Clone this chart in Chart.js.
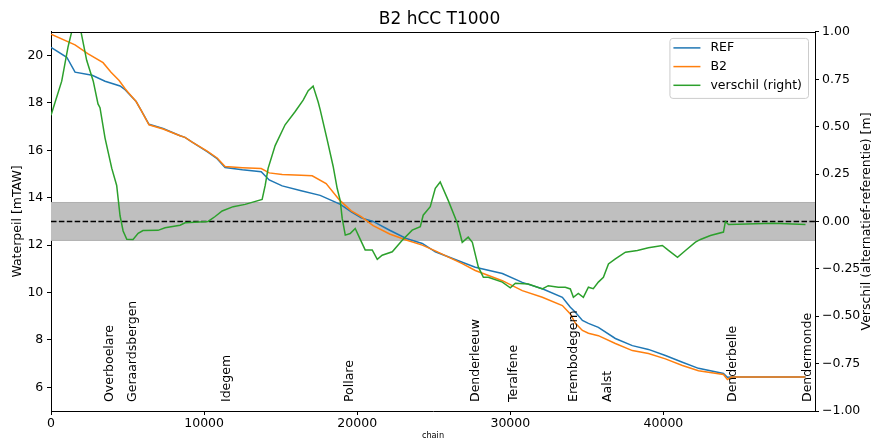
<!DOCTYPE html>
<html><head><meta charset="utf-8">
<script src="https://cdn.jsdelivr.net/npm/chart.js@4/dist/chart.umd.min.js"></script>
<style>html,body{margin:0;padding:0;background:#fff}canvas{display:block}</style>
</head><body>
<canvas id="c" width="879" height="441"></canvas>
<script>
// ---- data ----
const refChain = [0,1030,1570,2690,3530,4510,4840,5100,5560,5880,6400,7320,8430,8750,9220,10200,10850,11370,12500,13730,14250,15100,16340,17580,18900,19610,20260,21040,22120,23200,24250,25100,26860,27710,29480,30780,32090,33400,33920,34250,34710,35100,35750,36860,37970,39020,40130,41240,42290,43920,44180,44440,49280];
const refLevel = [20.35,19.93,19.3,19.17,18.92,18.72,18.56,18.38,18.06,17.7,17.1,16.92,16.62,16.55,16.35,15.95,15.65,15.28,15.18,15.1,14.75,14.5,14.3,14.1,13.72,13.4,13.15,13.0,12.63,12.28,12.07,11.72,11.28,11.07,10.8,10.43,10.16,9.8,9.38,9.17,8.82,8.7,8.53,8.06,7.76,7.6,7.34,7.06,6.8,6.58,6.42,6.43,6.43];

const b2Chain = [0,1570,2400,3400,3920,4450,4840,5100,5560,5880,6400,7320,8430,8750,9220,10200,10850,11370,12500,13730,14250,15100,16340,17060,17970,18850,19610,20260,21040,22120,23200,24250,25100,26860,27710,29480,30780,32090,33400,33920,34250,34710,35100,35750,36860,37970,39020,40130,41240,42290,43920,44180,44440,49280];
const b2Level = [20.9,20.45,20.08,19.7,19.3,18.95,18.6,18.4,18.06,17.7,17.08,16.9,16.62,16.55,16.35,15.97,15.68,15.32,15.27,15.23,15.05,14.98,14.95,14.93,14.6,13.9,13.45,13.2,12.82,12.47,12.22,12.0,11.76,11.22,10.93,10.5,10.08,9.8,9.45,9.1,8.7,8.4,8.28,8.18,7.85,7.55,7.43,7.2,6.92,6.7,6.54,6.33,6.43,6.43];

const diffChain = [0,700,1110,1350,1630,1960,2330,2760,3070,3200,3530,3970,4290,4510,4710,4950,5360,5690,6010,6990,7450,8430,8760,10260,10720,11180,11900,12680,13790,13990,14180,14640,15290,15950,16470,16800,17120,17450,17580,18040,18430,18690,18890,19020,19220,19540,19870,20070,20520,20980,21310,21630,22290,22940,23590,24120,24310,24770,25100,25420,25950,26540,26860,27250,27520,27910,28240,28560,29480,30000,30330,31180,32090,32480,33140,33590,33920,34120,34440,34770,35100,35420,35750,36080,36410,36860,37520,38300,39020,39930,40330,40920,41440,42090,42420,43070,43920,44050,44250,47190,49280];
const diffValue = [0.56,0.74,0.92,1.0,1.15,1.0,0.85,0.74,0.62,0.6,0.44,0.28,0.19,0.03,-0.05,-0.094,-0.095,-0.063,-0.048,-0.047,-0.033,-0.02,-0.007,0.0,0.026,0.055,0.078,0.09,0.116,0.19,0.28,0.40,0.51,0.58,0.64,0.69,0.714,0.63,0.59,0.43,0.29,0.175,0.11,0.016,-0.072,-0.064,-0.037,-0.072,-0.15,-0.15,-0.2,-0.178,-0.16,-0.099,-0.046,-0.028,0.033,0.078,0.175,0.208,0.11,-0.01,-0.11,-0.083,-0.11,-0.24,-0.295,-0.295,-0.32,-0.35,-0.326,-0.33,-0.356,-0.339,-0.347,-0.347,-0.356,-0.40,-0.38,-0.40,-0.347,-0.355,-0.32,-0.295,-0.224,-0.198,-0.162,-0.153,-0.139,-0.127,-0.153,-0.189,-0.153,-0.109,-0.095,-0.074,-0.056,0.0,-0.016,-0.009,-0.016];

const bandChain = [0, 49900];
const bandUpper = [0.1, 0.1];
const bandLower = [-0.1, -0.1];
const zeroLine = [0, 0];

const locationNames = ['Overboelare','Geraardsbergen','Idegem','Pollare','Denderleeuw','Teralfene','Erembodegem','Aalst','Denderbelle','Dendermonde'];
const locationChain = [3860,5360,11500,19540,27710,30200,34120,36340,44510,49410];

const xTicks = [0,10000,20000,30000,40000];
const yLeftTicks = [6,8,10,12,14,16,18,20];
const yRightTicks = [-1,-0.75,-0.5,-0.25,0,0.25,0.5,0.75,1];
const rightAxisTitle = 'Verschil (alternatief-referentie) [m]';

// ---- chart ----
const FONT = 'DejaVu Sans';
Chart.defaults.font.family = FONT;
Chart.defaults.color = '#000';
const toXY = (xs, ys) => xs.map((x, i) => ({x: x, y: ys[i]}));

const extras = {
  id: 'extras',
  afterDraw(chart) {
    const {ctx, chartArea: a, scales: {x}} = chart;
    ctx.save();
    ctx.strokeStyle = '#000'; ctx.lineWidth = 1;
    ctx.beginPath(); ctx.moveTo(a.left, Math.round(a.top) + 0.5); ctx.lineTo(a.right, Math.round(a.top) + 0.5); ctx.stroke();
    ctx.fillStyle = '#000';
    ctx.font = '12.5px "' + FONT + '"';
    // right axis title (reads bottom to top)
    ctx.save(); ctx.translate(chart.width - 12, (a.top + a.bottom) / 2); ctx.rotate(-Math.PI / 2);
    ctx.textAlign = 'center'; ctx.textBaseline = 'middle'; ctx.fillText(rightAxisTitle, 0, 0); ctx.restore();
    // location labels
    ctx.textAlign = 'left'; ctx.textBaseline = 'middle';
    locationNames.forEach((name, i) => {
      const px = x.getPixelForValue(locationChain[i]);
      ctx.save(); ctx.translate(px, a.bottom - 9); ctx.rotate(-Math.PI / 2); ctx.fillText(name, 0, 0); ctx.restore();
    });
    // legend
    const items = chart.data.datasets.filter(d => d.inLegend);
    const tw = Math.max(...items.map(d => ctx.measureText(d.label).width));
    const w = 4 + 27 + 10 + tw + 6, h = 60;
    const bx = a.right - 7 - w, by = a.top + 6;
    ctx.fillStyle = 'rgba(255,255,255,0.8)';
    ctx.strokeStyle = '#cccccc'; ctx.lineWidth = 1;
    ctx.beginPath(); ctx.roundRect(bx + 0.5, by + 0.5, w, h, 3); ctx.fill(); ctx.stroke();
    items.forEach((d, i) => {
      const yy = by + 10 + i * 18.7;
      ctx.strokeStyle = d.borderColor; ctx.lineWidth = 1.5;
      ctx.beginPath(); ctx.moveTo(bx + 4, yy); ctx.lineTo(bx + 31, yy); ctx.stroke();
      ctx.fillStyle = '#000'; ctx.textAlign = 'left'; ctx.textBaseline = 'middle';
      ctx.fillText(d.label, bx + 41, yy);
    });
    ctx.restore();
  }
};

const tickGrid = {display: true, drawOnChartArea: false, drawTicks: true, tickLength: 4, color: '#000', lineWidth: 1};
const border = {display: true, color: '#000', width: 1};

new Chart(document.getElementById('c'), {
  type: 'line',
  data: {
    datasets: [
      {label: 'REF', inLegend: true, data: toXY(refChain, refLevel), yAxisID: 'y', borderColor: '#1f77b4', borderWidth: 1.5, pointRadius: 0, fill: false, order: 3},
      {label: 'B2', inLegend: true, data: toXY(b2Chain, b2Level), yAxisID: 'y', borderColor: '#ff7f0e', borderWidth: 1.5, pointRadius: 0, fill: false, order: 2},
      {label: 'verschil (right)', inLegend: true, data: toXY(diffChain, diffValue), yAxisID: 'y1', borderColor: '#2ca02c', borderWidth: 1.5, pointRadius: 0, fill: false, order: 1, clip: 0},
      {label: 'band', data: toXY(bandChain, bandUpper), yAxisID: 'y1', borderColor: '#b0b0b0', borderWidth: 1, backgroundColor: '#bfbfbf', pointRadius: 0, fill: {value: -0.1}, order: 10},
      {label: 'bandLow', data: toXY(bandChain, bandLower), yAxisID: 'y1', borderColor: '#b0b0b0', borderWidth: 1, pointRadius: 0, fill: false, order: 9},
      {label: 'zero', data: toXY(bandChain, zeroLine), yAxisID: 'y1', borderColor: '#000', borderWidth: 1.5, borderDash: [5.5, 2.4], pointRadius: 0, fill: false, order: 5}
    ]
  },
  options: {
    responsive: false, animation: false, devicePixelRatio: 1,
    layout: {padding: 0},
    plugins: {
      legend: {display: false}, tooltip: {enabled: false},
      title: {display: true, text: 'B2 hCC T1000', color: '#000', font: {size: 17, weight: 'normal'}, padding: {top: 9.5, bottom: 2}}
    },
    scales: {
      x: {type: 'linear', min: 0, max: 49900,
        afterBuildTicks: s => { s.ticks = xTicks.map(v => ({value: v})); },
        afterFit: s => { s.height = 30; },
        grid: tickGrid, border: border,
        ticks: {font: {size: 12.5}, color: '#000', padding: 1.5, maxRotation: 0, autoSkip: false, callback: v => String(v)},
        title: {display: true, text: 'chain', color: '#000', font: {size: 8.2}, padding: {top: 0, bottom: 0}}
      },
      y: {type: 'linear', position: 'left', min: 5, max: 21,
        afterBuildTicks: s => { s.ticks = yLeftTicks.map(v => ({value: v})); },
        afterFit: s => { s.width = 51; },
        grid: tickGrid, border: border,
        ticks: {font: {size: 12.5}, color: '#000', padding: 3.7, autoSkip: false, callback: v => String(v)},
        title: {display: true, text: 'Waterpeil [mTAW]', color: '#000', font: {size: 12.5}, padding: {top: 10.5, bottom: 0}}
      },
      y1: {type: 'linear', position: 'right', min: -1, max: 1,
        afterBuildTicks: s => { s.ticks = yRightTicks.map(v => ({value: v})); },
        afterFit: s => { s.width = 64; },
        grid: tickGrid, border: border,
        ticks: {font: {size: 12.5}, color: '#000', padding: 3, autoSkip: false, callback: v => (v < 0 ? '\u2212' : '') + Math.abs(v).toFixed(2)},
        title: {display: false}
      }
    }
  },
  plugins: [extras]
});
</script>
</body></html>
